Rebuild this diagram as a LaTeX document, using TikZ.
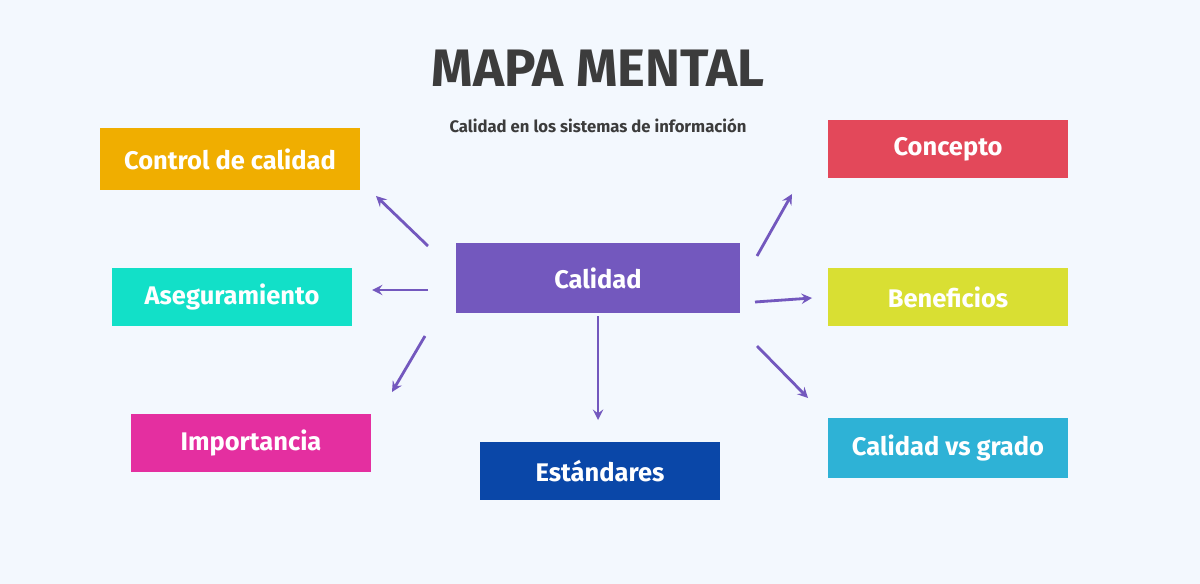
\documentclass[tikz,border=0pt]{standalone}
\usepackage{fontspec}
\setmainfont{Fira Sans}
\usetikzlibrary{positioning}
\definecolor{fond}{HTML}{F3F8FE}
\definecolor{violet}{HTML}{7358BE}
\definecolor{orange}{HTML}{F0AE00}
\definecolor{turq}{HTML}{12E0C8}
\definecolor{rose}{HTML}{E42FA0}
\definecolor{bleu}{HTML}{0A47A8}
\definecolor{rouge}{HTML}{E3485A}
\definecolor{jaune}{HTML}{D9DF33}
\definecolor{cyan}{HTML}{2EB2D6}
\definecolor{gris}{HTML}{3C3C3C}
\tikzset{
  boite/.style={minimum width=4.8cm, minimum height=1.16cm, text=white,
    font=\fontsize{14.5}{16}\selectfont\bfseries},
  fleche/.style={violet, line width=1.6pt, ->, >=stealth}
}
\begin{document}
\begin{tikzpicture}[x=0.02cm,y=-0.02cm]
%fond
\fill[fond] (0,0) rectangle (1200,584);
%titre
\node (titre) at (598,68) [text=gris, font=\fontsize{30}{32}\selectfont\bfseries] {MAPA MENTAL};
\node (sous) at (598,126) [text=gris, font=\fontsize{9.5}{11}\selectfont\bfseries] {Calidad en los sistemas de información};
%boites
\node (centre) at (598,278) [boite, fill=violet, minimum width=5.68cm, minimum height=1.4cm] {Calidad};
\node (controle) at (230,159) [boite, fill=orange, minimum width=5.2cm, minimum height=1.24cm] {Control de calidad};
\node (assur) at (232,297) [boite, fill=turq] {Aseguramiento};
\node (import) at (251,443) [boite, fill=rose] {Importancia};
\node (normes) at (600,471) [boite, fill=bleu] {Estándares};
\node (concept) at (948,149) [boite, fill=rouge] {Concepto};
\node (benef) at (948,297) [boite, fill=jaune] {Beneficios};
\node (grado) at (948,448) [boite, fill=cyan, minimum height=1.2cm] {Calidad vs grado};
%fleches
\coordinate (a1) at (428,246); \coordinate (b1) at (376,196);
\coordinate (a2) at (428,290); \coordinate (b2) at (372,290);
\coordinate (a3) at (425,336); \coordinate (b3) at (392,392);
\coordinate (a4) at (598,316); \coordinate (b4) at (598,420);
\coordinate (a5) at (757,256); \coordinate (b5) at (792,194);
\coordinate (a6) at (755,302); \coordinate (b6) at (812,298);
\coordinate (a7) at (757,346); \coordinate (b7) at (808,398);
\foreach \i in {1,...,7} \draw[fleche] (a\i) -- (b\i);
\end{tikzpicture}
\end{document}
